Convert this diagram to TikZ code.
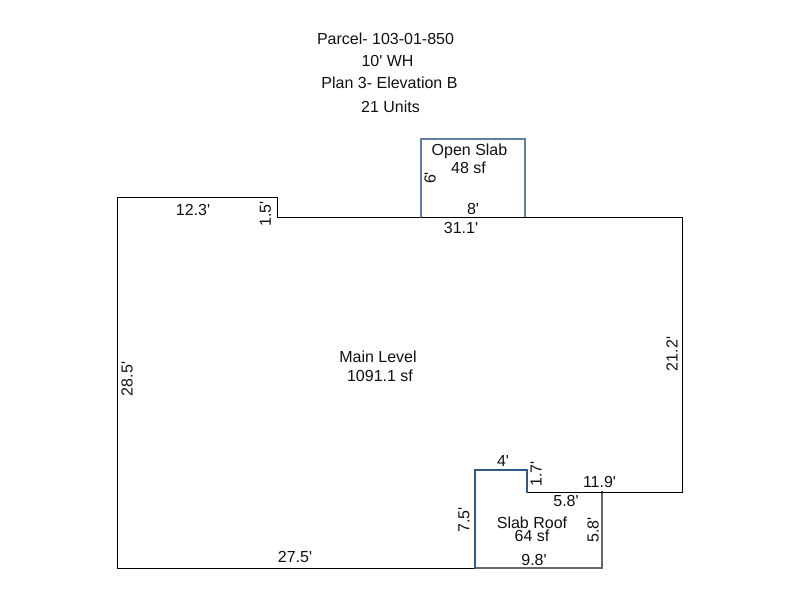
\documentclass[tikz,border=0pt]{standalone}
\usepackage{fontspec}
\newfontfamily\arialf{Liberation Sans}
\definecolor{slabblue}{HTML}{2F5C85}
\definecolor{openblue}{HTML}{5F7FA3}
\definecolor{slabgray}{HTML}{666666}
\definecolor{inkc}{HTML}{111111}
\tikzset{
  lbl/.style={inner sep=0pt,font=\arialf\fontsize{12pt}{12pt}\selectfont,text=inkc,anchor=center},
  vlbl/.style={lbl,rotate=90},
  wall/.style={draw=black,line width=0.75pt,line cap=rect},
  bluewall/.style={draw=slabblue,line width=1.1pt,line cap=rect},
  openwall/.style={draw=openblue,line width=1.1pt,line cap=rect},
  graywall/.style={draw=slabgray,line width=1.3pt,line cap=rect}
}
\begin{document}
\begin{tikzpicture}[x=0.75pt,y=-0.75pt]
\useasboundingbox (0,0) rectangle (800,600);
\fill[white] (0,0) rectangle (800,600);
\begin{scope}[shift={(0.1,0.1)}]
% main level
\draw[wall] (475,568) -- (117,568) -- (117,197) -- (277,197) -- (277,217) -- (682,217) -- (682,492) -- (602,492);
% slab roof
\draw[graywall] (602,492) -- (602,568) -- (475,568);
\draw[wall] (527,492) -- (602,492);
\draw[bluewall] (475,568) -- (475,470) -- (527,470) -- (527,492);
% open slab
\draw[openwall] (421,217) -- (421,139) -- (525,139) -- (525,217);
\draw[wall] (421,217) -- (525,217);
\end{scope}
% titles
\node[lbl] (t1) at (385.5,38.5) {Parcel- 103-01-850};
\node[lbl] (t2) at (387.5,60.5) {10' WH};
\node[lbl] (t3) at (389.5,82.5) {Plan 3- Elevation B};
\node[lbl] (t4) at (390.5,106.5) {21 Units};
% open slab labels
\node[lbl] (os1) at (469.5,151) {Open Slab};
\node[lbl] (os2) at (468.5,167.5) {48 sf};
\node[vlbl] (os3) at (430,178) {6'};
\node[lbl] (os4) at (473,208.5) {8'};
% main labels
\node[lbl] (m1) at (378,356.5) {Main Level};
\node[lbl] (m2) at (380,375.5) {1091.1 sf};
\node[lbl] (d1) at (193,209.5) {12.3'};
\node[vlbl] (d2) at (265.5,214) {1.5'};
\node[lbl] (d3) at (461,227.5) {31.1'};
\node[vlbl] (d4) at (672,354) {21.2'};
\node[vlbl] (d5) at (127,379) {28.5'};
\node[lbl] (d6) at (295,556.5) {27.5'};
\node[lbl] (d7) at (599.5,481.5) {11.9'};
% slab roof labels
\node[lbl] (s1) at (532,522.5) {Slab Roof};
\node[lbl] (s2) at (532,535.5) {64 sf};
\node[lbl] (s3) at (503,460.5) {4'};
\node[vlbl] (s4) at (536,474) {1.7'};
\node[lbl] (s5) at (566,500.5) {5.8'};
\node[vlbl] (s6) at (593,530) {5.8'};
\node[vlbl] (s7) at (464,520) {7.5'};
\node[lbl] (s8) at (534,559.5) {9.8'};
\end{tikzpicture}
\end{document}
